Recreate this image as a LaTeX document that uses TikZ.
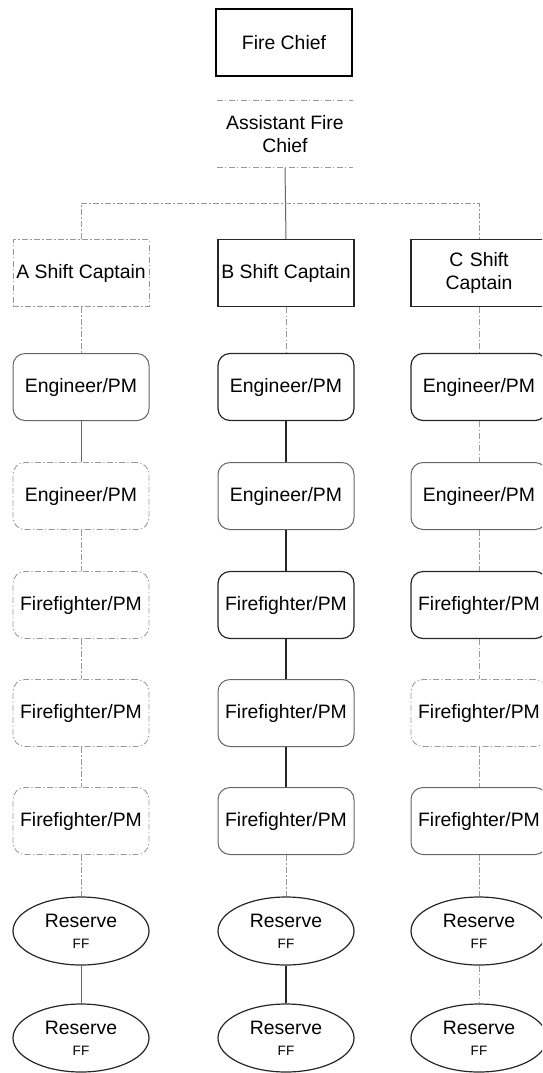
\documentclass[tikz,border=0pt]{standalone}
\usepackage{fontspec}
\setmainfont{Liberation Sans}
\usetikzlibrary{shapes.geometric, positioning}

\tikzset{
    strong/.style={draw=black!85, line width=0.6pt},
    soft/.style={draw=black!60, line width=0.5pt},
    faint/.style={draw=black!40, line width=0.45pt, dash pattern=on 3pt off 1.2pt on 0.6pt off 1.2pt},
    sqbox/.style={rectangle, minimum width=68pt, minimum height=33.5pt, inner sep=0pt, align=center},
    rndbox/.style={sqbox, rounded corners=6pt},
    resv/.style={ellipse, minimum width=68pt, minimum height=34pt, inner sep=0pt, align=center, strong}
}
\newcommand{\resname}{Reserve\\[-1pt]{\fontsize{6.8}{7.5}\selectfont FF}}

\begin{document}
\begin{tikzpicture}[x=0.5pt, y=-0.5pt, font=\fontsize{9.7}{11.5}\selectfont]
    \clip (0,0) rectangle (542,1073);
    % top
    \node[sqbox, draw=black, line width=1pt] (fc) at (284,42.5) {Fire Chief};
    \node[sqbox] (afc) at (285,134) {Assistant Fire\\Chief};
    \draw[faint] (afc.north west) -- (afc.north east);
    \draw[faint] (afc.south west) -- (afc.south east);
    % captains
    \node[sqbox, faint] (capA) at (81,273) {A Shift Captain};
    \node[sqbox, strong] (capB) at (286,273) {B Shift Captain};
    \node[sqbox, strong, text width=60pt] (capC) at (479,273) {C Shift\\Captain};
    \coordinate (split) at (286,203);
    \draw[soft] (afc.south) -- (capB.north);
    \draw[faint] (capA.north) |- (split) -| (capC.north);
    % A shift
    \node[rndbox, soft] (engA1) at (81,387) {Engineer/PM};
    \node[rndbox, faint] (engA2) at (81,496) {Engineer/PM};
    \node[rndbox, faint] (ffA1) at (81,605) {Firefighter/PM};
    \node[rndbox, faint] (ffA2) at (81,713) {Firefighter/PM};
    \node[rndbox, faint] (ffA3) at (81,821) {Firefighter/PM};
    \node[resv] (resA1) at (81,931) {\resname};
    \node[resv] (resA2) at (81,1038) {\resname};
    \draw[faint] (capA) -- (engA1);
    \draw[soft] (engA1) -- (engA2);
    \draw[faint] (engA2) -- (ffA1);
    \draw[faint] (ffA1) -- (ffA2);
    \draw[faint] (ffA2) -- (ffA3);
    \draw[faint] (ffA3) -- (resA1);
    \draw[soft] (resA1) -- (resA2);
    % B shift
    \node[rndbox, strong] (engB1) at (286,387) {Engineer/PM};
    \node[rndbox, soft] (engB2) at (286,496) {Engineer/PM};
    \node[rndbox, strong] (ffB1) at (286,605) {Firefighter/PM};
    \node[rndbox, soft] (ffB2) at (286,713) {Firefighter/PM};
    \node[rndbox, soft] (ffB3) at (286,821) {Firefighter/PM};
    \node[resv] (resB1) at (286,931) {\resname};
    \node[resv] (resB2) at (286,1038) {\resname};
    \draw[faint] (capB) -- (engB1);
    \draw[strong] (engB1) -- (engB2);
    \draw[strong] (engB2) -- (ffB1);
    \draw[strong] (ffB1) -- (ffB2);
    \draw[strong] (ffB2) -- (ffB3);
    \draw[faint] (ffB3) -- (resB1);
    \draw[strong] (resB1) -- (resB2);
    % C shift
    \node[rndbox, strong] (engC1) at (479,387) {Engineer/PM};
    \node[rndbox, soft] (engC2) at (479,496) {Engineer/PM};
    \node[rndbox, strong] (ffC1) at (479,605) {Firefighter/PM};
    \node[rndbox, faint] (ffC2) at (479,713) {Firefighter/PM};
    \node[rndbox, soft] (ffC3) at (479,821) {Firefighter/PM};
    \node[resv] (resC1) at (479,931) {\resname};
    \node[resv] (resC2) at (479,1038) {\resname};
    \draw[faint] (capC) -- (engC1);
    \draw[faint] (engC1) -- (engC2);
    \draw[faint] (engC2) -- (ffC1);
    \draw[faint] (ffC1) -- (ffC2);
    \draw[faint] (ffC2) -- (ffC3);
    \draw[faint] (ffC3) -- (resC1);
    \draw[faint] (resC1) -- (resC2);
\end{tikzpicture}
\end{document}
